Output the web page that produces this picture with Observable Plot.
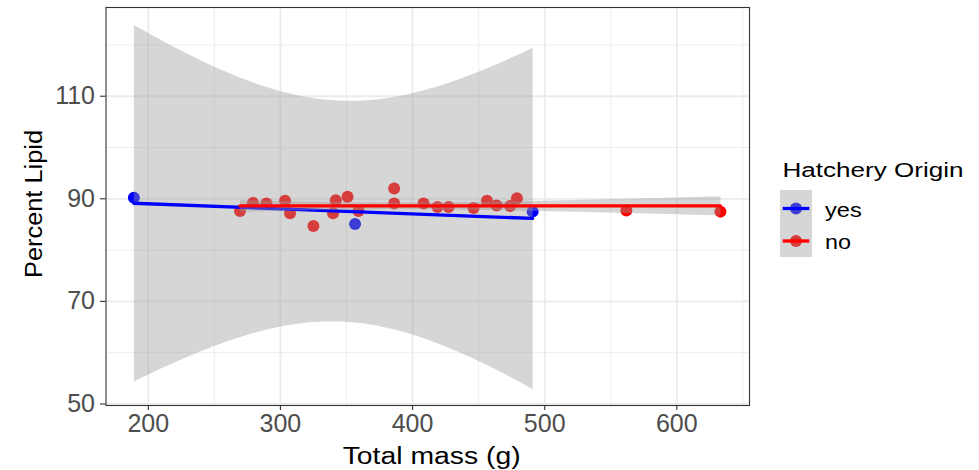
<!DOCTYPE html>
<html>
<head>
<meta charset="utf-8">
<script src="https://cdn.jsdelivr.net/npm/d3@7"></script>
<script src="https://cdn.jsdelivr.net/npm/@observablehq/plot@0.6"></script>
<style>
  html, body { margin: 0; padding: 0; background: #fff; }
  #wrap { position: relative; width: 979px; height: 470px; overflow: hidden; font-family: "Liberation Sans", Arial, sans-serif; }
  #overlay { position: absolute; left: 0; top: 0; pointer-events: none; }
</style>
</head>
<body>
<div id="wrap"></div>
<script>
// Hatchery origin = yes
const massYes  = [189.1, 356.5, 490.9];
const lipidYes = [90.2, 85.1, 87.5];
// Hatchery origin = no
const massNo  = [269.4, 279.2, 289.4, 303.5, 307.3, 325.0, 339.8, 341.9, 350.8, 359.1, 386.1, 386.1, 408.3, 418.9, 427.3, 446.2, 456.3, 463.6, 473.9, 479.0, 561.8, 633.0];
const lipidNo = [87.6, 89.2, 89.1, 89.6, 87.2, 84.7, 87.2, 89.7, 90.4, 87.6, 92.0, 89.1, 89.1, 88.4, 88.4, 88.2, 89.6, 88.7, 88.6, 90.1, 87.7, 87.5];

const origins = ["yes", "no"];
const originColors = ["blue", "red"];
const xTicks = [200, 300, 400, 500, 600];
const xMinor = [250, 350, 450, 550, 650];
const yTicks = [50, 70, 90, 110];
const yMinor = [60, 80, 100, 120];
const xTitle = "Total mass (g)";
const yTitle = "Percent Lipid";
const legendTitle = "Hatchery Origin";

const data = [
  ...massYes.map((m, i) => ({mass: m, lipid: lipidYes[i], origin: "yes"})),
  ...massNo.map((m, i) => ({mass: m, lipid: lipidNo[i], origin: "no"}))
];

const chart = Plot.plot({
  width: 979,
  height: 470,
  marginLeft: 105.5,
  marginRight: 230,
  marginTop: 7,
  marginBottom: 65,
  style: {fontFamily: "'Liberation Sans', Arial, sans-serif", background: "white"},
  x: {domain: [168, 655]},
  y: {domain: [49.7, 127.3]},
  color: {domain: origins, range: originColors, legend: false},
  marks: [
    Plot.ruleX(xMinor, {stroke: "#ebebeb", strokeWidth: 0.9}),
    Plot.ruleY(yMinor, {stroke: "#ebebeb", strokeWidth: 0.9}),
    Plot.ruleX(xTicks, {stroke: "#ebebeb", strokeWidth: 1.8}),
    Plot.ruleY(yTicks, {stroke: "#ebebeb", strokeWidth: 1.8}),
    Plot.dot(data, {x: "mass", y: "lipid", fill: "origin", r: 6}),
    Plot.linearRegressionY(data, {x: "mass", y: "lipid", stroke: "origin", fill: "#999999", fillOpacity: 0.4, strokeWidth: 3.3, ci: 0.95}),
    Plot.frame({stroke: "#333333", strokeWidth: 1.1}),
    Plot.axisX({ticks: xTicks, tickSize: 5, tickPadding: 4, fontSize: 25, stroke: "#333333", fill: "#4d4d4d", strokeWidth: 1.1, label: null}),
    Plot.axisY({ticks: yTicks, tickSize: 5.5, tickPadding: 5.5, fontSize: 25, stroke: "#333333", fill: "#4d4d4d", strokeWidth: 1.1, label: null})
  ]
});

const wrap = document.getElementById("wrap");
wrap.appendChild(chart);

// Titles and legend (text + legend keys)
const ns = "http://www.w3.org/2000/svg";
const ov = document.createElementNS(ns, "svg");
ov.setAttribute("id", "overlay");
ov.setAttribute("width", 979);
ov.setAttribute("height", 470);
ov.setAttribute("font-family", "'Liberation Sans', Arial, sans-serif");
function el(tag, attrs, text) {
  const e = document.createElementNS(ns, tag);
  for (const k in attrs) e.setAttribute(k, attrs[k]);
  if (text != null) e.textContent = text;
  ov.appendChild(e);
  return e;
}
el("text", {x: 342.7, y: 463.5, "font-size": 23, fill: "#000", textLength: 178, lengthAdjust: "spacingAndGlyphs"}, xTitle);
el("text", {transform: "translate(42.3,278) rotate(-90)", x: 0, y: 0, "font-size": 23, fill: "#000", textLength: 148, lengthAdjust: "spacingAndGlyphs"}, yTitle);
el("text", {x: 782.5, y: 176.7, "font-size": 20, fill: "#000", textLength: 181, lengthAdjust: "spacingAndGlyphs"}, legendTitle);

const keyY = [208.5, 241];
const labelY = [217.3, 249.3];
const labelW = [36.7, 26];
origins.forEach((o, i) => {
  el("circle", {cx: 796, cy: keyY[i], r: 6, fill: originColors[i]});
});
el("rect", {x: 780, y: 190, width: 32, height: 67, fill: "#999999", "fill-opacity": 0.4});
origins.forEach((o, i) => {
  el("line", {x1: 782.7, x2: 809.3, y1: keyY[i], y2: keyY[i], stroke: originColors[i], "stroke-width": 3.3});
  el("text", {x: 825, y: labelY[i], "font-size": 21, fill: "#000", textLength: labelW[i], lengthAdjust: "spacingAndGlyphs"}, o);
});
wrap.appendChild(ov);
</script>
</body>
</html>
